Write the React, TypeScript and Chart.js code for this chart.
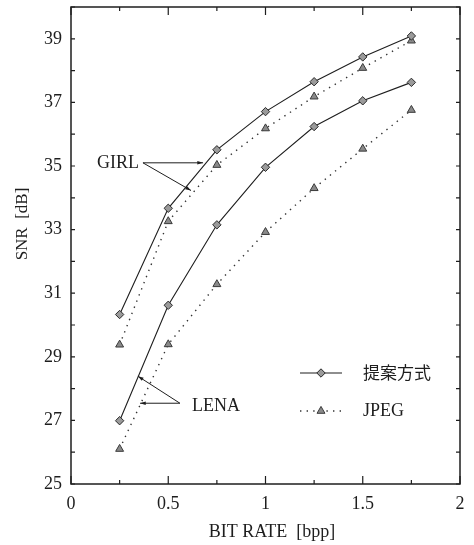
import React, { useEffect, useRef } from "react";
import { Chart, registerables } from "chart.js";
import { drawPoint } from "chart.js/helpers";

Chart.register(...registerables);

const bitRates = [0.25, 0.5, 0.75, 1.0, 1.25, 1.5, 1.75];
const girlProposed = [30.33, 33.67, 35.51, 36.71, 37.65, 38.43, 39.09];
const girlJpeg = [29.38, 33.26, 35.03, 36.18, 37.18, 38.08, 38.94];
const lenaProposed = [26.99, 30.62, 33.15, 34.96, 36.24, 37.05, 37.63];
const lenaJpeg = [26.1, 29.39, 31.28, 32.92, 34.3, 35.54, 36.76];

const xTickLabels = ["0", "0.5", "1", "1.5", "2"];
const yTickValues = [25, 27, 29, 31, 33, 35, 37, 39];
const legendLabels = ["提案方式", "JPEG"];
const xTitle = "BIT RATE  [bpp]";
const yTitle = "SNR  [dB]";

const SERIF = "'Liberation Serif', 'DejaVu Serif', serif";
const INK = "#1e1e1e";

const solidStyle = {
  borderColor: INK,
  borderWidth: 1.1,
  pointStyle: "rectRot",
  pointRadius: 4.2,
  pointBackgroundColor: "#9a9a9a",
  pointBorderColor: "#2a2a2a",
  pointBorderWidth: 1,
};
const dottedStyle = {
  borderColor: "#333",
  borderWidth: 1.4,
  borderDash: [1.4, 5.2],
  pointStyle: "triangle",
  pointRadius: 4.6,
  pointBackgroundColor: "#8a8a8a",
  pointBorderColor: "#3a3a3a",
  pointBorderWidth: 1,
};

const toXY = (ys: number[]) => ys.map((y, i) => ({ x: bitRates[i], y }));

function arrow(ctx: CanvasRenderingContext2D, x1: number, y1: number, x2: number, y2: number) {
  ctx.beginPath();
  ctx.moveTo(x1, y1);
  ctx.lineTo(x2, y2);
  ctx.stroke();
  const a = Math.atan2(y2 - y1, x2 - x1);
  const L = 6;
  ctx.beginPath();
  ctx.moveTo(x2, y2);
  ctx.lineTo(x2 - L * Math.cos(a - 0.3), y2 - L * Math.sin(a - 0.3));
  ctx.lineTo(x2 - L * Math.cos(a + 0.3), y2 - L * Math.sin(a + 0.3));
  ctx.closePath();
  ctx.fill();
}

const decorPlugin = {
  id: "decor",
  afterDraw(chart: any) {
    const ctx: CanvasRenderingContext2D = chart.ctx;
    const { left, right, top, bottom } = chart.chartArea;
    const xs = chart.scales.x;
    const ys = chart.scales.y;
    ctx.save();
    ctx.strokeStyle = INK;
    ctx.fillStyle = INK;
    ctx.lineWidth = 1.5;
    ctx.strokeRect(left, top, right - left, bottom - top);
    ctx.lineWidth = 1.2;
    for (let v = 25; v <= 40; v += 1) {
      const py = ys.getPixelForValue(v);
      ctx.beginPath();
      ctx.moveTo(left, py);
      ctx.lineTo(left + 4, py);
      ctx.moveTo(right, py);
      ctx.lineTo(right - 4, py);
      ctx.stroke();
    }
    for (let k = 0; k <= 8; k++) {
      const v = k * 0.25;
      const px = xs.getPixelForValue(v);
      const len = k % 2 === 0 ? 8 : 4;
      ctx.beginPath();
      ctx.moveTo(px, bottom);
      ctx.lineTo(px, bottom - len);
      ctx.moveTo(px, top);
      ctx.lineTo(px, top + len);
      ctx.stroke();
    }
    ctx.font = `18px ${SERIF}`;
    ctx.textAlign = "center";
    ctx.textBaseline = "middle";
    ctx.fillText(xTitle, 272, 532);
    ctx.save();
    ctx.translate(23, 224);
    ctx.rotate(-Math.PI / 2);
    ctx.font = `17px ${SERIF}`;
    ctx.fillText(yTitle, 0, 0);
    ctx.restore();

    const X = (v: number) => xs.getPixelForValue(v);
    const Y = (v: number) => ys.getPixelForValue(v);
    ctx.font = `18px ${SERIF}`;
    ctx.textAlign = "left";
    ctx.fillText("GIRL", X(0.134), Y(35.1));
    ctx.lineWidth = 1;
    arrow(ctx, X(0.37), Y(35.1), X(0.679), Y(35.1));
    arrow(ctx, X(0.37), Y(35.1), X(0.617), Y(34.23));
    ctx.fillText("LENA", X(0.622), Y(27.45));
    arrow(ctx, X(0.56), Y(27.54), X(0.344), Y(28.39));
    arrow(ctx, X(0.56), Y(27.54), X(0.355), Y(27.54));

    const rows = [
      { y: 373, s: solidStyle, label: legendLabels[0], font: `17px 'Noto Sans CJK JP', sans-serif` },
      { y: 411, s: dottedStyle, label: legendLabels[1], font: `18px ${SERIF}` },
    ];
    for (const r of rows) {
      ctx.save();
      ctx.strokeStyle = r.s.borderColor;
      ctx.lineWidth = r.s.borderWidth;
      ctx.setLineDash((r.s as any).borderDash || []);
      ctx.beginPath();
      ctx.moveTo(300, r.y);
      ctx.lineTo(342, r.y);
      ctx.stroke();
      ctx.setLineDash([]);
      ctx.fillStyle = r.s.pointBackgroundColor;
      ctx.strokeStyle = r.s.pointBorderColor;
      ctx.lineWidth = r.s.pointBorderWidth;
      drawPoint(ctx, { pointStyle: r.s.pointStyle, radius: r.s.pointRadius, rotation: 0, borderWidth: 1 } as any, 321, r.y);
      ctx.restore();
      ctx.fillStyle = INK;
      ctx.font = r.font;
      ctx.textAlign = "left";
      ctx.fillText(r.label, 363, r.y);
    }
    ctx.restore();
  },
};

export default function App() {
  const ref = useRef<HTMLCanvasElement>(null);
  useEffect(() => {
    document.body.style.margin = "0";
    const chart = new Chart(ref.current!, {
      type: "line",
      data: {
        datasets: [
          { label: "GIRL 提案方式", data: toXY(girlProposed), ...solidStyle } as any,
          { label: "GIRL JPEG", data: toXY(girlJpeg), ...dottedStyle } as any,
          { label: "LENA 提案方式", data: toXY(lenaProposed), ...solidStyle } as any,
          { label: "LENA JPEG", data: toXY(lenaJpeg), ...dottedStyle } as any,
        ],
      },
      options: {
        animation: false,
        responsive: false,
        devicePixelRatio: 1,
        layout: { padding: { top: 7, right: 14, left: 0, bottom: 0 } },
        plugins: { legend: { display: false }, tooltip: { enabled: false } },
        scales: {
          x: {
            type: "linear",
            min: 0,
            max: 2,
            grid: { display: false },
            border: { display: false },
            ticks: {
              stepSize: 0.5,
              padding: 1,
              color: INK,
              font: { family: SERIF, size: 18 },
              callback: (v: any) => xTickLabels[Math.round(Number(v) * 2)] ?? "",
            },
            afterFit: (s: any) => {
              s.height = 61;
              s.paddingLeft = 0;
              s.paddingRight = 0;
            },
          },
          y: {
            type: "linear",
            min: 25,
            max: 40,
            grid: { display: false },
            border: { display: false },
            afterBuildTicks: (s: any) => {
              s.ticks = yTickValues.map((v) => ({ value: v }));
            },
            ticks: {
              padding: 1,
              color: INK,
              font: { family: SERIF, size: 18 },
            },
            afterFit: (s: any) => {
              s.width = 71;
              s.paddingTop = 0;
              s.paddingBottom = 0;
            },
          },
        },
      },
      plugins: [decorPlugin],
    });
    return () => chart.destroy();
  }, []);
  return <canvas ref={ref} width={474} height={545} style={{ display: "block" }} />;
}
